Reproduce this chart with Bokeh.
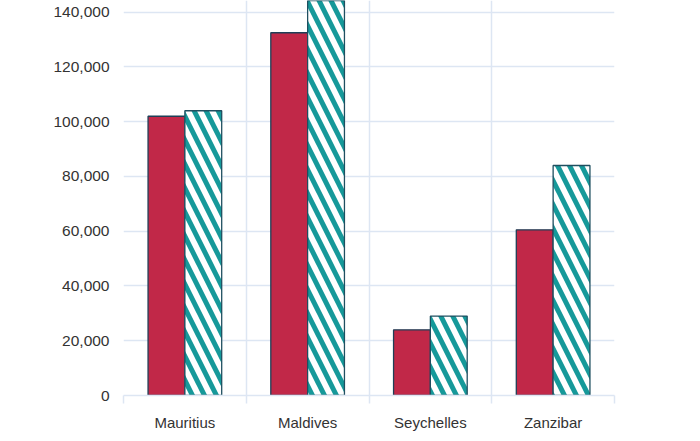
from bokeh.plotting import figure
from bokeh.models import FixedTicker, NumeralTickFormatter, Range1d, ColumnDataSource
from bokeh.embed import file_html
from bokeh.resources import INLINE

categories = ["Mauritius", "Maldives", "Seychelles", "Zanzibar"]
series_a = [102000, 132500, 24000, 60500]
series_b = [104000, 150000, 29000, 84000]
y_ticks = [0, 20000, 40000, 60000, 80000, 100000, 120000, 140000]

idx = list(range(len(categories)))
src = ColumnDataSource(dict(
    xa=[i + 0.35 for i in idx],
    xb=[i + 0.65 for i in idx],
    a=series_a,
    b=series_b,
))

p = figure(width=692, height=433, output_backend="svg", toolbar_location=None,
           x_range=Range1d(0, len(categories)), y_range=Range1d(0, 144275),
           min_border_left=123, min_border_right=78, min_border_top=0, min_border_bottom=28)
p.outline_line_color = None
p.background_fill_color = "white"
p.border_fill_color = "white"

p.vbar(x="xa", top="a", width=0.3, source=src, fill_color="#C12848",
       line_color="#1F3F57", line_width=1.3)
p.vbar(x="xb", top="b", width=0.3, source=src, fill_color="white",
       hatch_pattern="left_diagonal_line", hatch_color="#16999A", hatch_weight=5, hatch_scale=24,
       line_color="#1F4F60", line_width=1.3)

grid_col = "#dde6f3"
xt = FixedTicker(ticks=[i + 0.5 for i in idx], minor_ticks=idx + [len(categories)])
p.xaxis.ticker = xt
p.xaxis.major_label_overrides = {i + 0.5: c for i, c in enumerate(categories)}
p.xaxis.major_tick_line_color = None
p.xaxis.minor_tick_line_color = grid_col
p.xaxis.minor_tick_line_width = 1.5
p.xaxis.minor_tick_out = 8
p.xaxis.minor_tick_in = 0
p.xaxis.axis_line_color = grid_col
p.xaxis.axis_line_width = 1.5
p.xaxis.major_label_standoff = 10
p.xaxis.major_label_text_font = "Liberation Sans"
p.xaxis.major_label_text_font_size = "15px"
p.xaxis.major_label_text_color = "#333333"
p.xgrid.grid_line_color = None
p.xgrid.minor_grid_line_color = grid_col
p.xgrid.minor_grid_line_width = 1.5

p.yaxis.ticker = FixedTicker(ticks=y_ticks)
p.yaxis.formatter = NumeralTickFormatter(format="0,0")
p.yaxis.axis_line_color = None
p.yaxis.major_tick_line_color = None
p.yaxis.minor_tick_line_color = None
p.yaxis.major_tick_out = 0
p.yaxis.major_label_standoff = 14
p.yaxis.major_label_text_font = "Liberation Sans"
p.yaxis.major_label_text_font_size = "15.5px"
p.yaxis.major_label_text_color = "#333333"
p.ygrid.grid_line_color = grid_col
p.ygrid.grid_line_width = 1.5

open("out.html", "w").write(file_html(p, INLINE))
